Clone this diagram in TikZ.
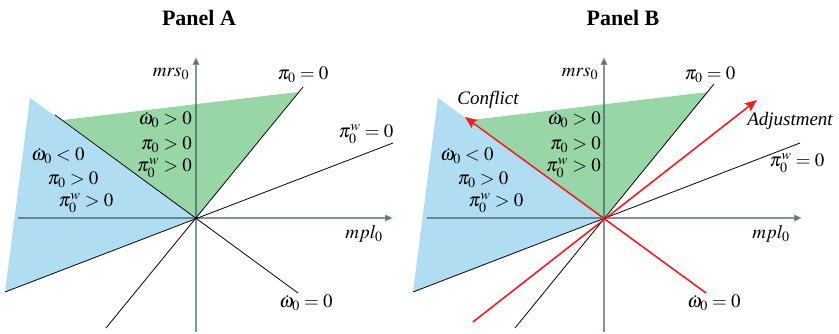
\documentclass[tikz,border=0pt]{standalone}
\usepackage{mathptmx}
\usepackage[no-math]{fontspec}
\setmainfont{Liberation Serif}
\usetikzlibrary{arrows.meta}
\definecolor{bluefill}{RGB}{176,221,241}
\definecolor{greenfill}{RGB}{152,214,168}
\definecolor{axisc}{RGB}{47,80,80}
\definecolor{redc}{RGB}{235,32,36}
\begin{document}
\begin{tikzpicture}[x=1pt,y=-1pt,
  lbl/.style={font=\fontsize{19}{22}\selectfont, inner sep=0pt},
  ttl/.style={font=\fontsize{22}{26}\selectfont\bfseries, inner sep=0pt},
  curve/.style={black, line width=0.8pt},
  axis/.style={axisc, opacity=0.6, line width=1.8pt, -{Triangle[length=8pt,width=6.5pt]}},
  redline/.style={redc, line width=1.6pt},
  redarrow/.style={redline, -{Stealth[length=12pt,width=10pt,inset=2pt]}}]
\useasboundingbox (0,0) rectangle (839,334);

% ---------------- Panel A ----------------
\coordinate (OA) at (196,218);
\coordinate (Ab1) at (30,98);
\coordinate (Ab2) at (5,292);
\coordinate (Ag1) at (63,120);
\coordinate (Ag2) at (298,92);
\coordinate (Avb) at (196,332);
\coordinate (Avt) at (196,57);
\coordinate (Ahl) at (18,218);
\coordinate (Ahr) at (393,218);
\coordinate (Ap1) at (106,328);
\coordinate (Ap2) at (303,87);
\coordinate (Aw1) at (5,292);
\coordinate (Aw2) at (393,143);
\coordinate (Ad1) at (55,115);
\coordinate (Ad2) at (298,293);

\fill[bluefill] (Ab1) -- (OA) -- (Ab2) -- cycle;
\fill[greenfill] (Ag1) -- (OA) -- (Ag2) -- cycle;
\draw[axis] (Avb) -- (Avt);
\draw[axis] (Ahl) -- (Ahr);
\draw[curve] (Ap1) -- (Ap2);
\draw[curve] (Aw1) -- (Aw2);
\draw[curve] (Ad1) -- (Ad2);

\node[ttl] (Atitle) at (199,18) {Panel A};
\node[lbl] (Amrs) at (171,74) {$mrs_0$};
\node[lbl] (Api) at (303,75) {$\pi_0=0$};
\node[lbl] (Apiw) at (366,134) {$\pi_0^w=0$};
\node[lbl] (Ampl) at (364,234) {$mpl_0$};
\node[lbl] (Aom) at (306,303) {$\dot{\omega}_0=0$};
\node[lbl, anchor=east] (Ag1t) at (192,120) {$\dot{\omega}_0>0$};
\node[lbl, anchor=east] (Ag2t) at (192,145) {$\pi_0>0$};
\node[lbl, anchor=east] (Ag3t) at (192,168) {$\pi_0^w>0$};
\node[lbl] (Ab1t) at (58,156) {$\dot{\omega}_0<0$};
\node[lbl] (Ab2t) at (73,180) {$\pi_0>0$};
\node[lbl] (Ab3t) at (86,203) {$\pi_0^w>0$};

% ---------------- Panel B ----------------
\coordinate (OB) at (604,218);
\coordinate (Bb1) at (438,98);
\coordinate (Bb2) at (413,292);
\coordinate (Bg1) at (471,120);
\coordinate (Bg2) at (708,92);
\coordinate (Bvb) at (604,332);
\coordinate (Bvt) at (604,57);
\coordinate (Bhl) at (427,218);
\coordinate (Bhr) at (802,218);
\coordinate (Bp1) at (515,328);
\coordinate (Bp2) at (714,84);
\coordinate (Bw1) at (413,292);
\coordinate (Bw2) at (800,143);
\coordinate (Bd1) at (706,293);
\coordinate (Bd2) at (465,117);
\coordinate (Bj1) at (473,322);
\coordinate (Bj2) at (757,100);

\fill[bluefill] (Bb1) -- (OB) -- (Bb2) -- cycle;
\fill[greenfill] (Bg1) -- (OB) -- (Bg2) -- cycle;
\draw[axis] (Bvb) -- (Bvt);
\draw[axis] (Bhl) -- (Bhr);
\draw[curve] (Bp1) -- (Bp2);
\draw[curve] (Bw1) -- (Bw2);
\draw[redarrow] (Bd1) -- (Bd2);
\draw[redarrow] (Bj1) -- (Bj2);

\node[ttl] (Btitle) at (623,18) {Panel B};
\node[lbl] (Bmrs) at (580,74) {$mrs_0$};
\node[lbl] (Bpi) at (710,75) {$\pi_0=0$};
\node[lbl] (Bconf) at (488,100) {\itshape Conflict};
\node[lbl] (Badj) at (790,121) {\itshape Adjustment};
\node[lbl] (Bpiw) at (797,163) {$\pi_0^w=0$};
\node[lbl] (Bmpl) at (771,234) {$mpl_0$};
\node[lbl] (Bom) at (714,303) {$\dot{\omega}_0=0$};
\node[lbl, anchor=east] (Bg1t) at (601,120) {$\dot{\omega}_0>0$};
\node[lbl, anchor=east] (Bg2t) at (601,145) {$\pi_0>0$};
\node[lbl, anchor=east] (Bg3t) at (601,168) {$\pi_0^w>0$};
\node[lbl] (Bb1t) at (467,156) {$\dot{\omega}_0<0$};
\node[lbl] (Bb2t) at (483,180) {$\pi_0>0$};
\node[lbl] (Bb3t) at (496,203) {$\pi_0^w>0$};
\end{tikzpicture}
\end{document}
